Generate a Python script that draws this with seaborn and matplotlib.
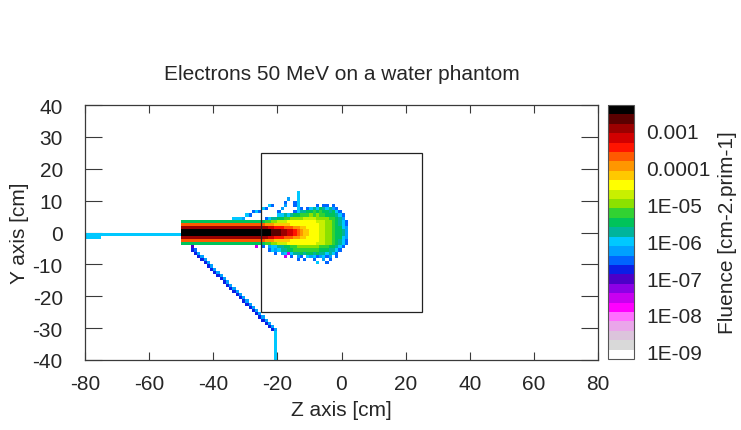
import numpy as np
import matplotlib
matplotlib.use("Agg")
import matplotlib.pyplot as plt
from matplotlib.colors import ListedColormap, LogNorm
from matplotlib.patches import Rectangle
from matplotlib.ticker import FixedLocator, NullFormatter
import seaborn as sns

sns.set_style("white")
plt.rcParams["font.family"] = ["Liberation Sans", "DejaVu Sans"]
plt.rcParams["axes.unicode_minus"] = False

# ---------------------------------------------------------------- data
TITLE = "Electrons 50 MeV on a water phantom"
X_LABEL = "Z axis [cm]"
Y_LABEL = "Y axis [cm]"
CBAR_LABEL = "Fluence [cm-2.prim-1]"

X_TICKS = [-80, -60, -40, -20, 0, 20, 40, 60, 80]
Y_TICKS = [-40, -30, -20, -10, 0, 10, 20, 30, 40]
CBAR_TICKS = [1e-9, 1e-8, 1e-7, 1e-6, 1e-5, 1e-4, 1e-3]
CBAR_TICK_LABELS = ["1E-09", "1E-08", "1E-07", "1E-06", "1E-05", "0.0001", "0.001"]

# scoring mesh: 1 cm bins over z in [-80, 80], y in [-40, 40]
Z_RANGE = (-80, 80)
Y_RANGE = (-40, 40)

# water phantom outline (cm)
PHANTOM_Z = (-25, 25)
PHANTOM_Y = (-25, 25)

# colour scale limits, log10(fluence)
LOG_MIN, LOG_MAX = -9.2, -2.3

# fluence codes: log10(fluence) = -9 + 0.25 * LEVEL_CODES.index(code); "." = no fluence
LEVEL_CODES = "0123456789ABCDEFGHIJKLMNOPQ"

# scored bins, one entry per row from y = 12 (bin [12,13]) down to y = -40;
# the three strings cover z bins -80..-51, -50..-27 and -26..1
FLUENCE_TOP_Y = 12
FLUENCE_SEGMENT_Z0 = -80
FLUENCE_SEGMENT_WIDTHS = (30, 24, 28)
FLUENCE_ROWS = [
    ("", "", "............C"),
    ("", "", "............C"),
    ("", "", ".........B..C"),
    ("", "", "........A..AC"),
    ("", "", "...CA...B..AC.....A.AA.A"),
    ("", "", ".CA....B....CA.ACDCEDCDBA"),
    ("", "......................AC", "A.....A....ACDDEEFEFEEDECA"),
    ("", "....................CA", "......CCDCDEEFFFGFGFFEEEDCA"),
    ("", "................CCCB", "..ACDDEEFFGGGGHHHHGGGGFFEDB"),
    ("", "EEEEEEEEEEEEEEEEEEEEEEEE", "EEFFGGHHHIIIIIIIIIHHHGGFEDCA"),
    ("", "LLLLLLLLLLLLLLLLLLLLLLLL", "LLKKKJJJJJIIIIIIIIIHHGGFEDCA"),
    ("", "OOOOOOOOOOOOOOOOOOOOOOOO", "OOONNMMMLLLKKJJIIIIHHGGFEECB"),
    ("", "QQQQQQQQQQQQQQQQQQQQQQQQ", "QQQQPPPOONNMLKJJIIIHHGGFEEDB"),
    ("CCCCCCCCCCCCCCCCCCCCCCCCCCCCCC", "QQQQQQQQQQQQQQQQQQQQQQQQ", "QQQQPPPOONNMLKJJIIIHHGGFEEDB"),
    ("CCCCC", "OOOOOOOOOOOOOOOOOOOOOOOO", "OOONNMMMLLLKKJJIIIIHHGGFEECB"),
    ("", "LLLLLLLLLLLLLLLLLLLLLLLL", "LLKKKJJJJJIIIIIIIIIHHGGFEDCA"),
    ("", "EEEEEEEEEEEEEEEEEEEEEEEE", "EEFFGGHHHIIIIIIIIIHHHGGFEDCA"),
    ("", "...8...................6", ".A.BCCDDEEFFGGGGGGGFFFEEDCA."),
    ("", "...9A", "...ACBCDDEEFFFFFFFFEEEDDCA"),
    ("", "....9B", ".....A.BC6CDDEDEEDEDDCDCA"),
    ("", ".....9B", "........6.A.BA.CBCABCAB.A"),
    ("", "......9B", "............A.A..A..B.A"),
    ("", ".......9B", "..................C..A"),
    ("", "........9B", ""),
    ("", ".........9B", ""),
    ("", "..........9B", ""),
    ("", "...........9B", ""),
    ("", "............9B", ""),
    ("", ".............9B", ""),
    ("", "..............9B", ""),
    ("", "...............9B", ""),
    ("", "................9B", ""),
    ("", ".................9B", ""),
    ("", "..................9B", ""),
    ("", "...................9B", ""),
    ("", "....................9B", ""),
    ("", ".....................9B", ""),
    ("", "......................9B", ""),
    ("", ".......................9", "B"),
    ("", "", "9B"),
    ("", "", ".9B"),
    ("", "", "..9B"),
    ("", "", "...9B"),
    ("", "", "....9B"),
    ("", "", ".....C"),
    ("", "", ".....C"),
    ("", "", ".....C"),
    ("", "", ".....C"),
    ("", "", ".....C"),
    ("", "", ".....C"),
    ("", "", ".....C"),
    ("", "", ".....C"),
    ("", "", ".....C"),
]

# palette bands, lowest fluence first
BAND_COLORS = [
    "#ffffff", "#d9d9d9", "#dcc4dc", "#eaa6ea", "#ff6eff", "#ff00ff",
    "#c800f0", "#8c00e6", "#4b00c8", "#0a1ee6", "#0064ff", "#00a0ff",
    "#00c8ff", "#00b49b", "#00c35a", "#32d232", "#8ce100", "#c8f000",
    "#ffff00", "#ffc800", "#ff9600", "#ff5a00", "#ff1400", "#d20000",
    "#9b0000", "#5a0000", "#000000",
]

# ---------------------------------------------------------------- mesh
nz = Z_RANGE[1] - Z_RANGE[0]
ny = Y_RANGE[1] - Y_RANGE[0]
fluence = np.full((ny, nz), np.nan)
for k, segments in enumerate(FLUENCE_ROWS):
    row = ""
    for seg, width in zip(segments, FLUENCE_SEGMENT_WIDTHS):
        assert len(seg) <= width
        row += seg.ljust(width, ".")
    y_bin = FLUENCE_TOP_Y - k
    i = Y_RANGE[1] - 1 - y_bin          # heatmap rows run from the top
    for j, code in enumerate(row):
        if code != ".":
            col = FLUENCE_SEGMENT_Z0 - Z_RANGE[0] + j
            fluence[i, col] = 10.0 ** (-9 + 0.25 * LEVEL_CODES.index(code))

cmap = ListedColormap(BAND_COLORS)
norm = LogNorm(vmin=10 ** LOG_MIN, vmax=10 ** LOG_MAX)

# ---------------------------------------------------------------- figure
W, H = 741, 431
fig = plt.figure(figsize=(W / 100, H / 100), dpi=100)
ax = fig.add_axes([85 / W, 1 - 361 / H, 513 / W, 255 / H])
cax = fig.add_axes([608 / W, 1 - 360 / H, 26 / W, 254 / H])

sns.heatmap(fluence, ax=ax, cbar_ax=cax, cmap=cmap, norm=norm,
            xticklabels=False, yticklabels=False, linewidths=0)

ax.set_xlim(0, nz)
ax.set_ylim(ny, 0)
ax.set_xticks([z - Z_RANGE[0] for z in X_TICKS])
ax.set_xticklabels([str(z) for z in X_TICKS])
ax.set_yticks([Y_RANGE[1] - y for y in Y_TICKS])
ax.set_yticklabels([str(y) for y in Y_TICKS])

frame_color = "#3a3a3a"
for spine in ax.spines.values():
    spine.set_visible(True)
    spine.set_color(frame_color)
    spine.set_linewidth(0.9)

ax.tick_params(axis="x", which="major", direction="in", length=6, width=0.8,
               color=frame_color, top=True, bottom=True, labelsize=15, pad=10)
ax.tick_params(axis="y", which="major", direction="in", length=12, width=0.8,
               color=frame_color, left=True, right=True, labelsize=15, pad=16)

# water phantom outline
ax.add_patch(Rectangle((PHANTOM_Z[0] - Z_RANGE[0], Y_RANGE[1] - PHANTOM_Y[1]),
                       PHANTOM_Z[1] - PHANTOM_Z[0], PHANTOM_Y[1] - PHANTOM_Y[0],
                       fill=False, edgecolor="#222222", linewidth=0.9, zorder=5))

ax.set_xlabel(X_LABEL, fontsize=15)
ax.set_ylabel(Y_LABEL, fontsize=15)
ax.xaxis.set_label_coords(0.5, -(401 - 361) / 255)
ax.yaxis.set_label_coords(-(85 - 29) / 513, 0.5)

fig.text(341.5 / W, 1 - 79.5 / H, TITLE, ha="center", va="baseline", fontsize=15)

# colour bar
cbar = ax.collections[0].colorbar
cbar.set_ticks(CBAR_TICKS)
cbar.set_ticklabels(CBAR_TICK_LABELS)
band_edges = 10.0 ** np.linspace(LOG_MIN, LOG_MAX, len(BAND_COLORS) + 1)
cax.yaxis.set_minor_locator(FixedLocator(band_edges[1:-1]))
cax.yaxis.set_minor_formatter(NullFormatter())
cbar.outline.set_visible(True)
cbar.outline.set_linewidth(0.8)
cbar.outline.set_edgecolor("#555555")
cax.tick_params(which="both", direction="in", left=True, right=True,
                color="black", width=1.0)
cax.tick_params(which="major", length=6, labelsize=15, pad=9)
cax.tick_params(which="minor", length=5)
cbar.set_label(CBAR_LABEL, fontsize=15)
cax.yaxis.set_label_coords((718 - 608) / 26, 0.5)

fig.savefig("out.png", dpi=100, facecolor="white")
